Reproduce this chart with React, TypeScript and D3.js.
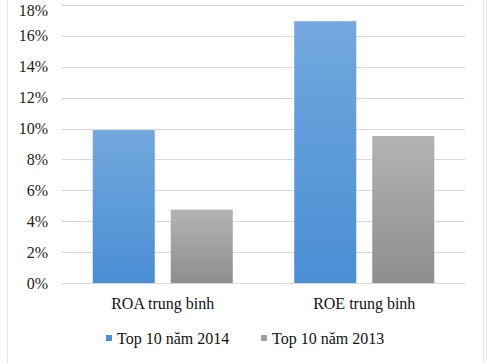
import React from "react";
import * as d3 from "d3";

const categories = ["ROA trung binh", "ROE trung binh"];
const seriesNames = ["Top 10 năm 2014", "Top 10 năm 2013"];
const values2014 = [9.9, 16.95];
const values2013 = [4.75, 9.52];
const yTicks = [0, 2, 4, 6, 8, 10, 12, 14, 16, 18];

const colors = [
  { top: "#72a8de", bottom: "#4a8ed4", key: "#4f90d4" },
  { top: "#b3b3b3", bottom: "#8e8e8e", key: "#a0a0a0" },
];

const W = 500;
const H = 363;
const font = "'Liberation Serif', 'DejaVu Serif', serif";

export default function App() {
  const margin = { left: 62, right: 35, top: 5, bottom: 80 };
  const x = d3.scaleBand().domain(categories).range([margin.left, W - margin.right]);
  const inner = d3.scaleBand().domain(seriesNames).range([0, x.bandwidth()]).paddingInner(0.205).paddingOuter(0.394);
  const y = d3.scaleLinear().domain([0, 18]).range([H - margin.bottom, margin.top]);
  const series = [values2014, values2013];
  const textStyle = { fontFamily: font, fontSize: 16 };

  return (
    <svg width={W} height={H} style={{ position: "absolute", left: 0, top: 0, background: "#fff" }}>
      <defs>
        {colors.map((c, i) => (
          <linearGradient key={i} id={`g${i}`} x1="0" y1="0" x2="0" y2="1">
            <stop offset="0%" stopColor={c.top} />
            <stop offset="100%" stopColor={c.bottom} />
          </linearGradient>
        ))}
      </defs>
      <line x1={7.5} x2={7.5} y1={0} y2={H} stroke="#e6e6e6" />
      <line x1={483.5} x2={483.5} y1={0} y2={H} stroke="#e3e3e3" />
      <line x1={486.5} x2={486.5} y1={0} y2={H} stroke="#ececec" />
      {yTicks.map((t) => (
        <g key={t}>
          <line x1={margin.left} x2={W - margin.right} y1={Math.round(y(t)) + 0.5} y2={Math.round(y(t)) + 0.5} stroke="#d9d9d9" />
          <text x={48} y={Math.max(y(t), 10)} dy="0.35em" textAnchor="end" style={textStyle} fill="#222">
            {t}%
          </text>
        </g>
      ))}
      {categories.map((c, ci) =>
        seriesNames.map((s, si) => {
          const v = series[si][ci];
          return (
            <rect
              key={c + s}
              x={(x(c) ?? 0) + (inner(s) ?? 0)}
              y={y(v)}
              width={inner.bandwidth()}
              height={y(0) - y(v)}
              fill={`url(#g${si})`}
            />
          );
        })
      )}
      {categories.map((c) => (
        <text key={c} x={(x(c) ?? 0) + x.bandwidth() / 2} y={303} dy="0.35em" textAnchor="middle" style={textStyle} fill="#111">
          {c}
        </text>
      ))}
      {seriesNames.map((s, i) => {
        const lx = [106, 261][i];
        return (
          <g key={s}>
            <rect x={lx} y={335} width={6} height={6} fill={colors[i].key} />
            <text x={lx + 11} y={338} dy="0.35em" style={textStyle} fill="#111">
              {s}
            </text>
          </g>
        );
      })}
    </svg>
  );
}
